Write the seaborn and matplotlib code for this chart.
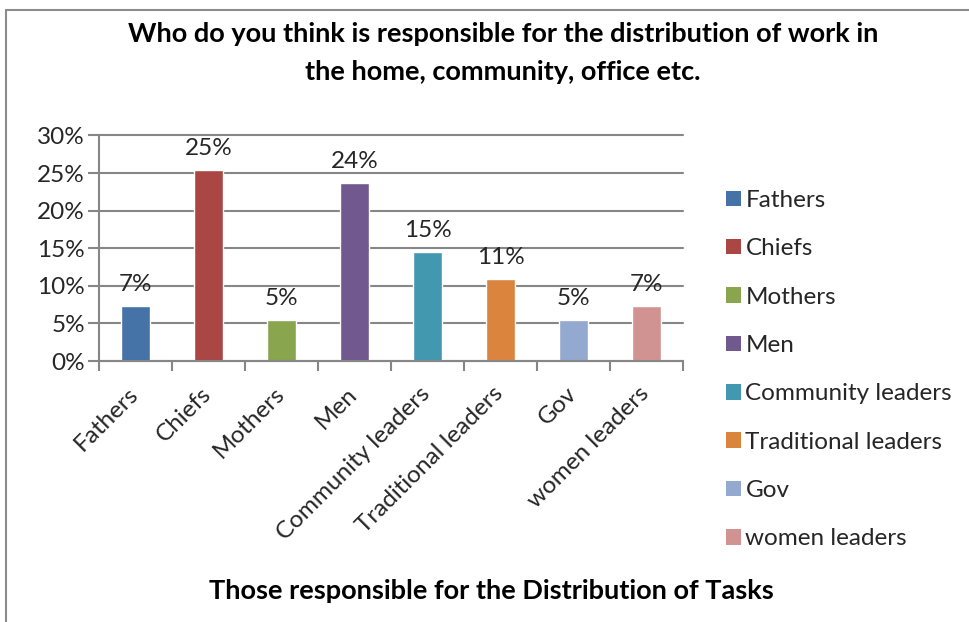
import matplotlib
matplotlib.use("Agg")
import matplotlib.pyplot as plt
import matplotlib.transforms as mtransforms
import seaborn as sns
import pandas as pd
from matplotlib.patches import Patch
from matplotlib.lines import Line2D
from matplotlib.ticker import PercentFormatter

categories = ["Fathers", "Chiefs", "Mothers", "Men", "Community leaders",
              "Traditional leaders", "Gov", "women leaders"]
values = [0.0727, 0.2545, 0.0545, 0.2364, 0.1455, 0.1091, 0.0545, 0.0727]
colors = ["#4572A7", "#AA4643", "#89A54E", "#71588F", "#4198AF",
          "#DB843D", "#93A9CF", "#D19392"]
yticks = [0, 0.05, 0.10, 0.15, 0.20, 0.25, 0.30]
title = "Who do you think is responsible for the distribution of work in\nthe home, community, office etc."
xlabel = "Those responsible for the Distribution of Tasks"

sns.set_theme(style="white")
plt.rcParams['font.family'] = ['Lato', 'DejaVu Sans']

W, H = 969, 622
FS = 17.5
fig = plt.figure(figsize=(W / 100, H / 100), dpi=100)
ax = fig.add_axes([99 / W, 1 - 361 / H, (683 - 99) / W, (361 - 135.5) / H])

df = pd.DataFrame({"cat": categories, "val": values})
sns.barplot(data=df, x="cat", y="val", hue="cat", palette=colors,
            width=0.4, legend=False, ax=ax, saturation=1)

for c in ax.containers:
    ax.bar_label(c, labels=[f"{v*100:.0f}%" for v in c.datavalues],
                 padding=8, fontsize=FS, color="#262626")

ax.set_ylim(0, 0.30)
ax.set_yticks(yticks)
ax.yaxis.set_major_formatter(PercentFormatter(1.0, decimals=0))
ax.set_xlim(-0.5, len(categories) - 0.5)
ax.grid(axis="y", color="#868686", linewidth=1.5)
ax.set_axisbelow(True)
for gl in ax.yaxis.get_gridlines():
    gl.set_clip_on(False)
for s in ["top", "right"]:
    ax.spines[s].set_visible(False)
for s in ["left", "bottom"]:
    ax.spines[s].set_color("#868686")
    ax.spines[s].set_linewidth(1.5)

ax.set_xticks([i - 0.5 for i in range(len(categories) + 1)], minor=True)
ax.set_xticks(range(len(categories)))
ax.tick_params(axis="x", which="major", length=0, pad=8)
ax.tick_params(axis="x", which="minor", length=7, width=1.5, color="#868686",
               bottom=True, direction="out")
ax.tick_params(axis="y", length=8, width=1.5, color="#868686", left=True,
               direction="out", labelsize=FS, labelcolor="#262626", pad=2)
ax.set_xticklabels(categories, rotation=45, ha="right", rotation_mode="anchor",
                   fontsize=FS, color="#262626")
offset = mtransforms.ScaledTranslation(-8 / 100, -11 / 100, fig.dpi_scale_trans)
for lbl in ax.xaxis.get_majorticklabels():
    lbl.set_transform(lbl.get_transform() + offset)
ax.set_xlabel("")
ax.set_ylabel("")

fig.text(503 / W, 1 - 53 / H, title, ha="center", va="center",
         fontsize=19.5, fontweight="bold", color="black", linespacing=1.75)
fig.text(491 / W, 1 - 591 / H, xlabel, ha="center", va="center",
         fontsize=19.5, fontweight="bold", color="black")

handles = [Patch(facecolor=c, edgecolor="none", label=l)
           for c, l in zip(colors, categories)]
fig.legend(handles=handles, loc="upper left", bbox_to_anchor=(726 / W, 1 - 190 / H),
           frameon=False, fontsize=FS, handlelength=0.6, handleheight=0.6,
           handletextpad=0.2, labelspacing=1.125, borderpad=0, borderaxespad=0,
           labelcolor="#262626")

fig.add_artist(Line2D([6 / W, 6 / W], [0, 1 - 10 / H], transform=fig.transFigure,
                      color="#8c8c8c", linewidth=1.5))
fig.add_artist(Line2D([6 / W, 1], [1 - 10 / H, 1 - 10 / H], transform=fig.transFigure,
                      color="#8c8c8c", linewidth=1.5))

fig.savefig("out.png", dpi=100, facecolor="white")
